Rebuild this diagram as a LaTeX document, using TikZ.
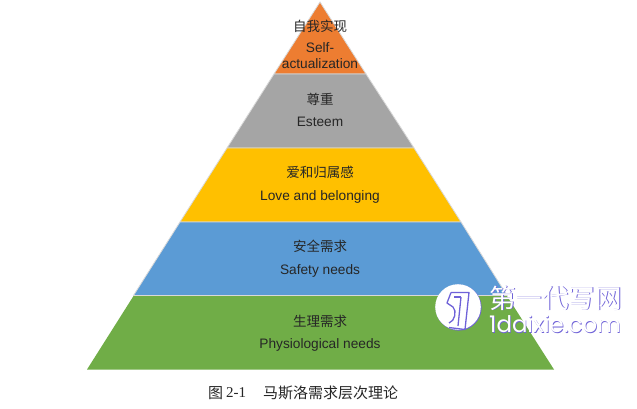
\documentclass[tikz,border=0pt]{standalone}
\usepackage{fontspec}
\setmainfont{Liberation Sans}
\newfontfamily\cjk{Noto Sans CJK SC}
\newfontfamily\serifl{Liberation Serif}
\newfontfamily\wmfont{Poppins}
\definecolor{tipc}{HTML}{ED7D31}
\definecolor{grayc}{HTML}{A5A5A5}
\definecolor{goldc}{HTML}{FFC000}
\definecolor{bluec}{HTML}{5B9BD5}
\definecolor{greenc}{HTML}{70AD47}
\definecolor{wmc}{HTML}{6F62D8}
\definecolor{inkc}{HTML}{262626}
\tikzset{
  tier/.style={draw=white!85!black,line width=0.8pt,line join=miter},
  zh/.style={inner sep=0pt,text=inkc,font=\cjk\fontsize{13.5}{15}\selectfont},
  en/.style={inner sep=0pt,text=inkc,font=\fontsize{13.7}{15.5}\selectfont,align=center},
  captext/.style={inner sep=0pt,anchor=west,text=black!85},
  wmzh/.style={inner sep=0pt,anchor=west,font=\cjk\fontsize{26.5}{28}\selectfont},
  wmen/.style={inner sep=0pt,anchor=west,font=\wmfont\fontsize{22.9}{26}\selectfont},
  logoline/.style={draw=wmc,line width=1.3pt,line join=round,fill=none},
}
\begin{document}
\begin{tikzpicture}[x=1pt,y=-1pt]
\useasboundingbox (0,0) rectangle (637,409);
\fill[white] (0,0) rectangle (637,409);
% tiers
\filldraw[tier,fill=tipc]   (320,2)   -- (366,74)  -- (274,74)  -- cycle;
\filldraw[tier,fill=grayc]  (274,74)  -- (366,74)  -- (414,148) -- (227,148) -- cycle;
\filldraw[tier,fill=goldc]  (227,148) -- (414,148) -- (461,222) -- (180,222) -- cycle;
\filldraw[tier,fill=bluec]  (180,222) -- (461,222) -- (507,295.5) -- (133.5,295.5) -- cycle;
\filldraw[tier,fill=greenc,draw=none] (133.5,296) -- (507,296) -- (554,369.5) -- (87,369.5) -- cycle;
% labels
\node[zh] (z1) at (320,26) {自我实现};
\node[en,font=\fontsize{13.7}{16}\selectfont] (e1) at (320,55.5) {Self-\\actualization};
\node[zh] (z2) at (320,99.5) {尊重};
\node[en] (e2) at (320,121.5) {Esteem};
\node[zh] (z3) at (320,172.5) {爱和归属感};
\node[en] (e3) at (320,197) {Love and belonging};
\node[zh] (z4) at (320,246.5) {安全需求};
\node[en] (e4) at (320,271) {Safety needs};
\node[zh] (z5) at (320,321) {生理需求};
\node[en] (e5) at (320,345) {Physiological needs};
% caption
\node[captext,font=\cjk\fontsize{15}{16}\selectfont] (c1) at (208,393) {图};
\node[captext,font=\serifl\fontsize{15}{16}\selectfont] (c2) at (226,393) {2-1};
\node[captext,font=\cjk\fontsize{15}{16}\selectfont] (c3) at (263,393) {马斯洛需求层次理论};
% watermark
\fill[wmc] (458.6,307.6) circle (23);
\fill[white] (458,307) circle (22.8);
\draw[logoline] (451,292.5) -- (469,292.5) -- (465,329.5) -- (449,327.5);
\draw[logoline] (451,292.5) -- (447,303) -- (453,307) .. controls (457,311) and (455,321) .. (449,323);
\draw[logoline] (461,297) -- (458,326);
\draw[logoline] (454,297) -- (461,297);
\node[wmzh,text=wmc] (w1s) at (489.8,298.8) {第一代写网};
\node[wmzh,text=white] (w1) at (489,298) {第一代写网};
\node[wmen,text=wmc] (w2s) at (489.7,324.7) {1daixie.com};
\node[wmen,text=white] (w2) at (489,324) {1daixie.com};
\end{tikzpicture}
\end{document}
